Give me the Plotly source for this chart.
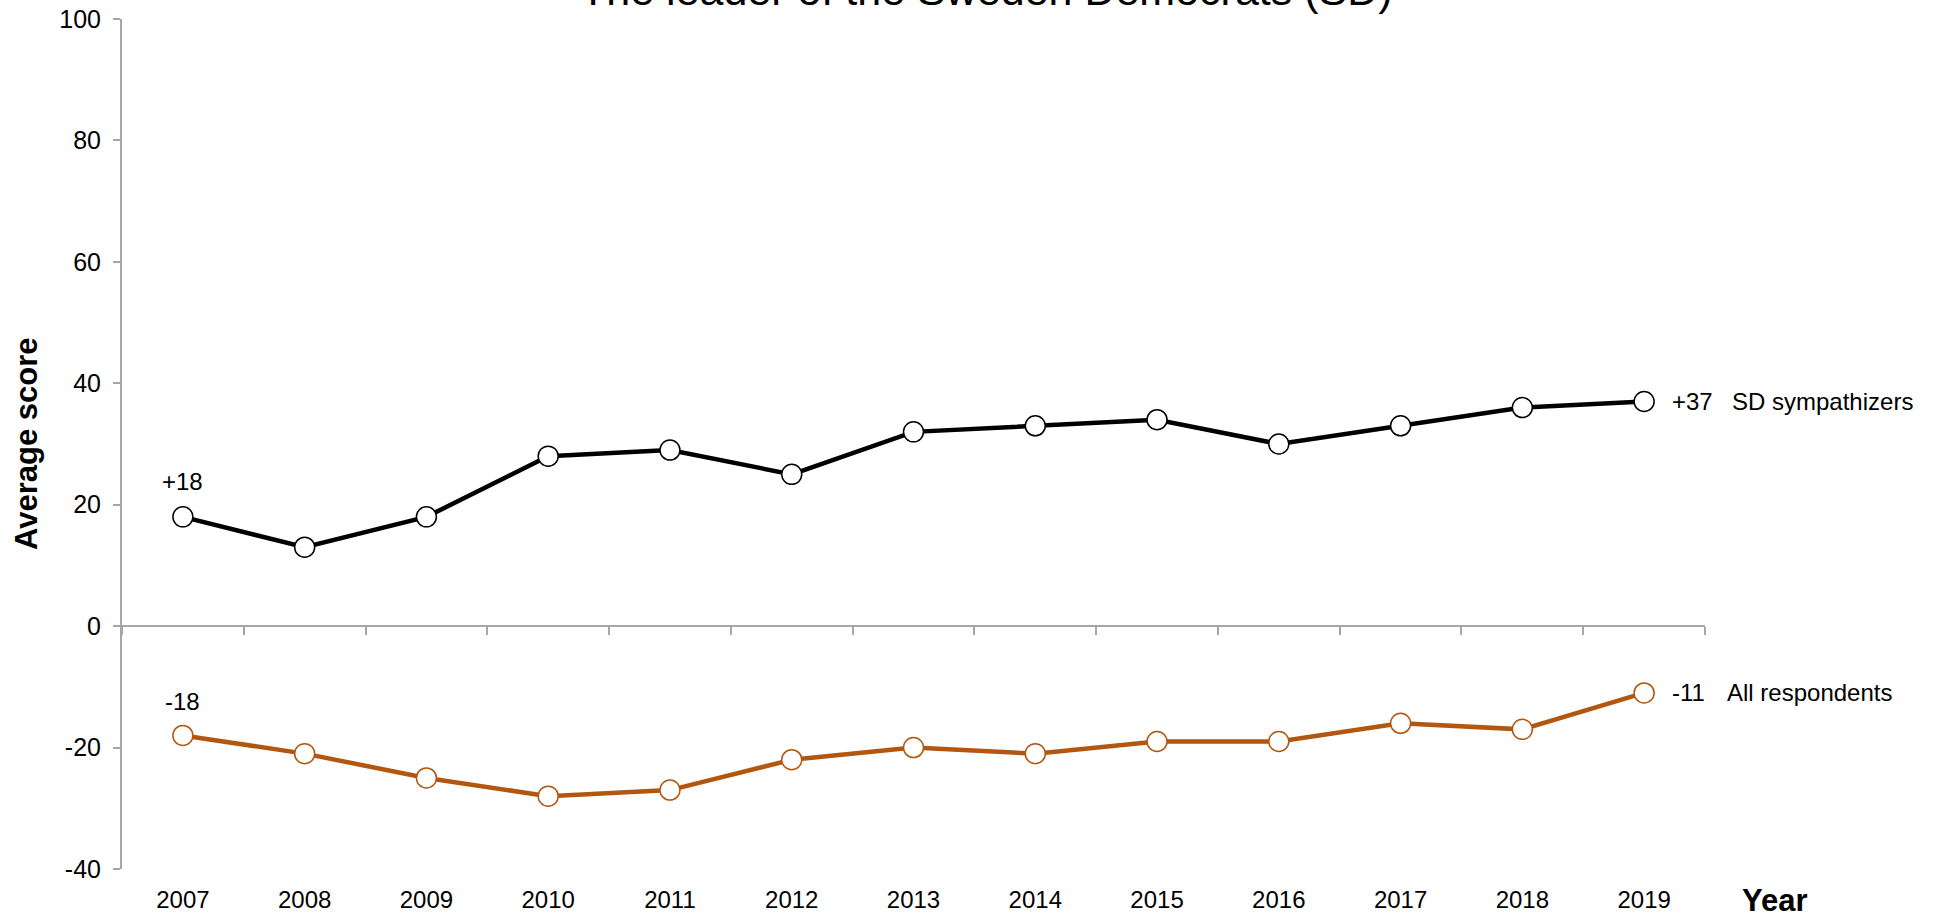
import plotly.graph_objects as go

# Data
years = [2007, 2008, 2009, 2010, 2011, 2012, 2013, 2014, 2015, 2016, 2017, 2018, 2019]
sd_sympathizers = [18, 13, 18, 28, 29, 25, 32, 33, 34, 30, 33, 36, 37]
all_respondents = [-18, -21, -25, -28, -27, -22, -20, -21, -19, -19, -16, -17, -11]
y_ticks = [-40, -20, 0, 20, 40, 60, 80, 100]

BLACK = '#000000'
ORANGE = '#B3560F'
AXIS_GREY = '#A6A6A6'
FONT = 'Liberation Sans, Arial, sans-serif'

x_range = [years[0] - 0.5, years[-1] + 0.5]
y_range = [y_ticks[0], y_ticks[-1]]
boundaries = [years[0] - 0.5 + i for i in range(len(years) + 1)]

fig = go.Figure()

# SD sympathizers line
fig.add_trace(go.Scatter(
    x=years, y=sd_sympathizers,
    mode='lines+markers',
    line=dict(color=BLACK, width=4.5),
    marker=dict(size=20, color='white', line=dict(color=BLACK, width=1.5)),
    name='SD sympathizers',
    xaxis='x', yaxis='y',
    cliponaxis=False,
    hoverinfo='skip'
))

# All respondents line (drawn on the zero-line axis, same range)
fig.add_trace(go.Scatter(
    x=years, y=all_respondents,
    mode='lines+markers',
    line=dict(color=ORANGE, width=4.5),
    marker=dict(size=20, color='white', line=dict(color=ORANGE, width=1.5)),
    name='All respondents',
    xaxis='x2', yaxis='y',
    cliponaxis=False,
    hoverinfo='skip'
))

text_font = dict(family=FONT, size=24, color='black')
annotations = [
    # start value labels
    dict(x=years[0], y=sd_sympathizers[0], text='+%d' % sd_sympathizers[0],
         yshift=35, showarrow=False, font=text_font),
    dict(x=years[0], y=all_respondents[0], text='%d' % all_respondents[0],
         yshift=34, showarrow=False, font=text_font),
    # end value labels and series names
    dict(x=years[-1], y=sd_sympathizers[-1], text='+%d' % sd_sympathizers[-1],
         xshift=26, xanchor='left', showarrow=False, font=text_font),
    dict(x=years[-1], y=sd_sympathizers[-1], text='SD sympathizers',
         xshift=86, xanchor='left', showarrow=False, font=text_font),
    dict(x=years[-1], y=all_respondents[-1], text='%d' % all_respondents[-1],
         xshift=26, xanchor='left', showarrow=False, font=text_font),
    dict(x=years[-1], y=all_respondents[-1], text='All respondents',
         xshift=81, xanchor='left', showarrow=False, font=text_font),
    # title (cut off at the top edge)
    dict(xref='paper', yref='paper', x=0.5464, y=1.0, yshift=3,
         xanchor='center', yanchor='bottom',
         text='The leader of the Sweden Democrats (SD)', showarrow=False,
         font=dict(family=FONT, size=43, color='black')),
    # axis titles
    dict(xref='paper', yref='paper', x=-0.0606, y=0.5, xanchor='center',
         yanchor='middle',
         text='<b>Average score</b>', textangle=-90, showarrow=False,
         font=dict(family=FONT, size=31, color='black')),
    dict(xref='paper', yref='paper', x=1.0442, y=-0.0365, xanchor='center',
         yanchor='middle',
         text='<b>Year</b>', showarrow=False,
         font=dict(family=FONT, size=31, color='black')),
]

fig.update_layout(
    width=1933, height=913,
    paper_bgcolor='white',
    plot_bgcolor='white',
    showlegend=False,
    margin=dict(l=122, r=228, t=19, b=44, autoexpand=False),
    font=dict(family=FONT, size=24, color='black'),
    xaxis=dict(
        range=x_range,
        tickvals=years,
        ticktext=[str(y) for y in years],
        showline=False, showgrid=False, zeroline=False,
        ticks='', ticklabelstandoff=14, automargin=False,
        tickfont=dict(size=24)
    ),
    xaxis2=dict(
        range=x_range,
        overlaying='x',
        anchor='free',
        position=(0 - y_range[0]) / (y_range[1] - y_range[0]),
        side='bottom',
        tickvals=boundaries,
        showticklabels=False, automargin=False,
        ticks='outside', ticklen=8, tickwidth=1.5, tickcolor=AXIS_GREY,
        showline=True, linecolor=AXIS_GREY, linewidth=2,
        showgrid=False, zeroline=False
    ),
    yaxis=dict(
        range=y_range,
        tickvals=y_ticks,
        ticktext=[str(v) for v in y_ticks],  # plain hyphen minus like the source
        showline=True, linecolor=AXIS_GREY, linewidth=2,
        ticks='outside', ticklen=7, tickwidth=1.5, tickcolor=AXIS_GREY,
        showgrid=False, zeroline=False, automargin=False,
        ticklabelstandoff=7, ticklabeloverflow='allow',
        tickfont=dict(size=25)
    ),
    annotations=annotations
)

# drop the default 8px page margin so the figure fills the window exactly
fig.write_html("out.html", config={'displayModeBar': False},
               post_script="document.body.style.margin='0';")
